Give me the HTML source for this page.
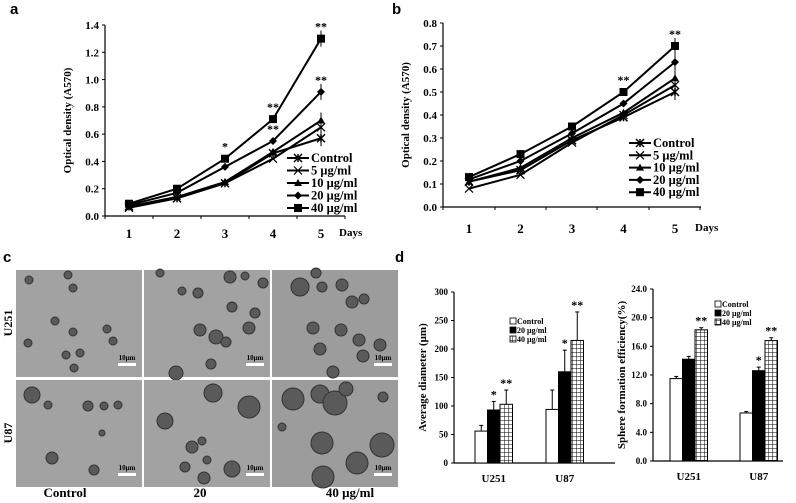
<!DOCTYPE html>
<html><head><meta charset="utf-8"><style>
body{margin:0;background:#fff;}
svg{display:block;font-family:"Liberation Serif",serif;font-weight:bold;}
.pl{font-family:"Liberation Sans",sans-serif;font-weight:bold;font-size:15px;}
</style></head><body>
<svg id="fig" width="796" height="503" viewBox="0 0 796 503">
<text class="pl" x="10" y="14">a</text>
<text class="pl" x="392" y="14">b</text>
<text class="pl" x="3" y="262">c</text>
<text class="pl" x="395" y="262">d</text>
<g id="ga"></g>
<g id="gb"></g>
<g id="gc"></g>
<g id="gd1"></g>
<g id="gd2"></g>
</svg>
<script>
const days=[1,2,3,4,5];
const seriesNames=["Control","5 μg/ml","10 μg/ml","20 μg/ml","40 μg/ml"];
const aControl=[0.07,0.13,0.24,0.46,0.57];
const a5=[0.06,0.13,0.24,0.42,0.65];
const a10=[0.07,0.14,0.25,0.47,0.70];
const a20=[0.08,0.17,0.36,0.55,0.91];
const a40=[0.09,0.20,0.42,0.71,1.30];
const aTicks=[0,0.2,0.4,0.6,0.8,1.0,1.2,1.4];
const bControl=[0.11,0.16,0.29,0.39,0.50];
const b5=[0.08,0.14,0.28,0.40,0.53];
const b10=[0.11,0.17,0.30,0.41,0.56];
const b20=[0.12,0.20,0.32,0.45,0.63];
const b40=[0.13,0.23,0.35,0.50,0.70];
const bTicks=[0,0.1,0.2,0.3,0.4,0.5,0.6,0.7,0.8];
const barGroups=["U251","U87"];
const barNames=["Control","20 μg/ml","40 μg/ml"];
const diamU251=[56,93,103], diamU87=[94,160,215];
const diamErrU251=[10,15,25], diamErrU87=[34,38,50];
const diamTicks=[0,50,100,150,200,250,300];
const effU251=[11.5,14.2,18.3], effU87=[6.7,12.6,16.8];
const effErrU251=[0.3,0.4,0.3], effErrU87=[0.2,0.5,0.4];
const effTicks=[0,4,8,12,16,20,24];
const NS="http://www.w3.org/2000/svg";
function mk(p,t,a,txt){const e=document.createElementNS(NS,t);for(const k in a)e.setAttribute(k,a[k]);if(txt!==undefined)e.textContent=txt;p.appendChild(e);return e;}
function marker(g,k,x,y){
 const s=4;let e;
 if(k==0){e=mk(g,'path',{d:`M${x-s} ${y-s}L${x+s} ${y+s}M${x-s} ${y+s}L${x+s} ${y-s}M${x} ${y-s}L${x} ${y+s}`,stroke:'#000','stroke-width':1.5});}
 else if(k==1){e=mk(g,'path',{d:`M${x-s} ${y-s}L${x+s} ${y+s}M${x-s} ${y+s}L${x+s} ${y-s}`,stroke:'#000','stroke-width':1.2});}
 else if(k==2){e=mk(g,'path',{d:`M${x} ${y-s}L${x+s} ${y+s-1}L${x-s} ${y+s-1}Z`,fill:'#000'});}
 else if(k==3){e=mk(g,'path',{d:`M${x} ${y-s}L${x+s} ${y}L${x} ${y+s}L${x-s} ${y}Z`,fill:'#000'});}
 else {e=mk(g,'rect',{x:x-s,y:y-s,width:2*s,height:2*s,fill:'#000'});}
 
 
}
function lineChart(id,series,ticks,ymax,ox,y0,y1,xs,axEnd,tickXs,title,stars,leg,dec,lo){
 const g=document.getElementById(id);
 const Y=v=>y0-(v/ymax)*(y0-y1);
 const X=d=>xs[0]+(d-1)*(xs[1]-xs[0]);
 mk(g,'line',{x1:ox,y1:y1,x2:ox,y2:y0,stroke:'#000','stroke-width':1.2});
 mk(g,'line',{x1:ox,y1:y0,x2:axEnd,y2:y0,stroke:'#000','stroke-width':1.2});
 ticks.forEach(t=>{mk(g,'line',{x1:ox-3,y1:Y(t),x2:ox,y2:Y(t),stroke:'#000'});
  const l=mk(g,'text',{x:ox-6,y:Y(t)+4,'text-anchor':'end','font-size':11},t.toFixed(dec));
  });
 tickXs.forEach(x=>mk(g,'line',{x1:x,y1:y0,x2:x,y2:y0+3,stroke:'#000'}));
 days.forEach(d=>{const l=mk(g,'text',{x:X(d),y:y0+lo,'text-anchor':'middle','font-size':13},String(d));
  });
 const dl=mk(g,'text',{x:axEnd-6,y:y0+lo-2,'font-size':11},'Days');
 
 const t=mk(g,'text',{transform:`translate(${ox-34},${(y0+y1)/2}) rotate(-90)`,'text-anchor':'middle','font-size':11},title);
 
 series.forEach((s,k)=>{
  const p=mk(g,'polyline',{points:s.map((v,i)=>X(days[i])+','+Y(v)).join(' '),fill:'none',stroke:'#000','stroke-width':2});
  
  s.forEach((v,i)=>marker(g,k,X(days[i]),Y(v)));
  const xe=X(5),ye=Y(s[4]);mk(g,'line',{x1:xe,y1:ye-8,x2:xe,y2:ye+8,stroke:'#000'});
 });
 stars.forEach(st=>{const l=mk(g,'text',{x:X(st[0]),y:Y(st[1])-8,'text-anchor':'middle','font-size':12},st[2]);
  });
 seriesNames.forEach((n,k)=>{const y=leg[1]+k*leg[2];
  mk(g,'line',{x1:leg[0],y1:y,x2:leg[0]+22,y2:y,stroke:'#000','stroke-width':2});
  marker(g,k,leg[0]+11,y);
  const l=mk(g,'text',{x:leg[0]+24,y:y+4,'font-size':12.5},n);
  });
}
lineChart('ga',[aControl,a5,a10,a20,a40],aTicks,1.4,105,216,25,[129,177],345,[105,153,201,249,297,345],'Optical density (A570)',
 [[3,0.42,'*'],[4,0.71,'**'],[4,0.55,'**'],[5,1.30,'**'],[5,0.91,'**']],[287,158,12.5],1,22);
lineChart('gb',[bControl,b5,b10,b20,b40],bTicks,0.8,443,207,23,[469,520.5],701,[443,495,546,597,649,700],'Optical density (A570)',
 [[4,0.5,'**'],[5,0.70,'**']],[629,143,12.3],1,26);
// panel c
const gc=document.getElementById('gc');
const panels=[[16,270],[144,270],[272,270],[16,380],[144,380],[272,380]];
const spheres=[
 [[29,280,4],[68,275,4],[73,288,4],[55,321,4],[73,332,4],[107,329,4],[113,341,4],[28,343,4],[66,355,4],[80,353,4],[74,368,4]],
 [[160,273,4],[182,291,4],[198,293,5],[230,277,6],[245,276,4],[263,283,5],[232,307,5],[255,313,5],[200,330,6],[249,328,6],[216,337,7],[226,342,5],[211,364,5],[176,373,7]],
 [[300,287,9],[316,273,5],[322,287,5],[342,285,6],[352,302,6],[364,299,5],[313,328,6],[341,330,6],[359,340,6],[320,349,6],[380,345,6],[363,356,6],[333,372,6]],
 [[32,395,8],[48,405,4],[88,406,5],[104,406,4],[118,405,4],[52,458,6],[94,470,5],[102,433,3]],
 [[165,421,8],[213,393,9],[249,407,11],[192,447,6],[202,441,4],[207,460,4],[232,469,8],[185,467,5],[204,478,6]],
 [[293,399,11],[320,394,9],[335,403,12],[322,443,11],[382,445,12],[357,463,11],[383,397,5],[282,427,4],[323,477,11],[346,389,7]]];
panels.forEach((p,i)=>{
 const r=mk(gc,'rect',{x:p[0],y:p[1],width:126,height:107,fill:i%3==2?'#9c9c9c':'#a2a2a2'});
 
 spheres[i].forEach(s=>{mk(gc,'circle',{cx:s[0],cy:s[1],r:s[2],fill:'#5a5a5a',stroke:'#333','stroke-width':1});});
 mk(gc,'rect',{x:p[0]+102,y:p[1]+93,width:18,height:3,fill:'#fff'});
 const l=mk(gc,'text',{x:p[0]+111,y:p[1]+90,'text-anchor':'middle','font-size':7,fill:'#000'},'10μm');
 
});
[['Control',65],['20',200],['40 μg/ml',350]].forEach(c=>{const l=mk(gc,'text',{x:c[1],y:497,'text-anchor':'middle','font-size':13},c[0]);
 });
[['U251',323],['U87',433]].forEach(c=>{const l=mk(gc,'text',{transform:`translate(12,${c[1]}) rotate(-90)`,'text-anchor':'middle','font-size':12},c[0]);
 });
// bar charts
const defs=mk(document.getElementById('fig'),'defs',{});
const pat=mk(defs,'pattern',{id:'grid',width:4,height:4,patternUnits:'userSpaceOnUse'});
mk(pat,'rect',{width:4,height:4,fill:'#fff'});
mk(pat,'path',{d:'M0 0H4M0 0V4',stroke:'#000','stroke-width':1});
const fills=['#fff','#000','url(#grid)'];
function barChart(id,vals,errs,ticks,ymax,ox,y0,y1,axEnd,starts,title,dec,stars,leg){
 const g=document.getElementById(id);
 const Y=v=>y0-(v/ymax)*(y0-y1);
 mk(g,'line',{x1:ox,y1:y1,x2:ox,y2:y0,stroke:'#000','stroke-width':1.2});
 mk(g,'line',{x1:ox,y1:y0,x2:axEnd,y2:y0,stroke:'#000','stroke-width':1.2});
 ticks.forEach(t=>{mk(g,'line',{x1:ox-3,y1:Y(t),x2:ox,y2:Y(t),stroke:'#000'});
  const l=mk(g,'text',{x:ox-6,y:Y(t)+3,'text-anchor':'end','font-size':9},t.toFixed(dec));
  });
 const bw=12.5;
 barGroups.forEach((gname,gi)=>{
  vals[gi].forEach((v,k)=>{const x=starts[gi]+k*bw;
   const e=errs[gi][k];mk(g,'line',{x1:x+bw/2,y1:Y(v),x2:x+bw/2,y2:Y(v+e),stroke:'#000'});
   mk(g,'line',{x1:x+bw/2-2,y1:Y(v+e),x2:x+bw/2+2,y2:Y(v+e),stroke:'#000'});
   const r=mk(g,'rect',{x:x,y:Y(v),width:bw,height:y0-Y(v),fill:fills[k],stroke:'#000','stroke-width':1});
   
   const s=stars[gi][k];if(s){const l=mk(g,'text',{x:x+bw/2,y:Y(v+e)-3,'text-anchor':'middle','font-size':12},s);
    }
  });
  const l=mk(g,'text',{x:starts[gi]+bw*1.5,y:y0+19,'text-anchor':'middle','font-size':11},gname);
  
 });
 const t=mk(g,'text',{transform:`translate(${ox-28},${(y0+y1)/2}) rotate(-90)`,'text-anchor':'middle','font-size':11},title);
 
 barNames.forEach((n,k)=>{const y=leg[1]+k*9;
  mk(g,'rect',{x:leg[0],y:y-6,width:6,height:6,fill:fills[k],stroke:'#000','stroke-width':0.8});
  const l=mk(g,'text',{x:leg[0]+7,y:y,'font-size':8},n);
  });
}
barChart('gd1',[diamU251,diamU87],[diamErrU251,diamErrU87],diamTicks,300,454,463,292,615,[475,546],'Average diameter (μm)',0,
 [['','*','**'],['','*','**']],[510,324]);
barChart('gd2',[effU251,effU87],[effErrU251,effErrU87],effTicks,24,653,461,289,783,[670,740],'Sphere formation efficiency(%)',1,
 [['','','**'],['','*','**']],[715,307]);
</script>
</body></html>
